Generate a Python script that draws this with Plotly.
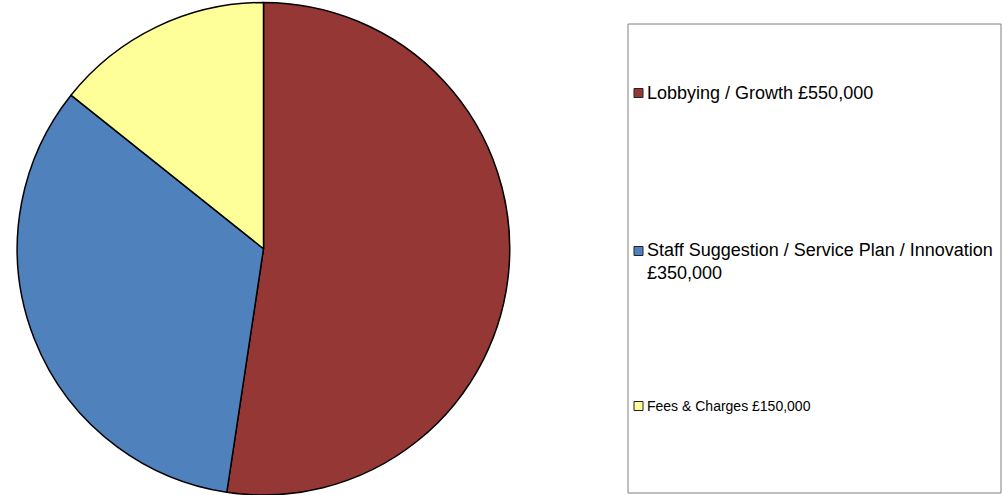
import plotly.graph_objects as go

# ---- data ----
categories = ["Lobbying / Growth", "Staff Suggestion / Service Plan / Innovation", "Fees & Charges"]
values = [550000, 350000, 150000]
colors = ["#953735", "#4F81BD", "#FFFF99"]
legend_labels = [
    "Lobbying / Growth £550,000",
    "Staff Suggestion / Service Plan / Innovation<br>£350,000",
    "Fees & Charges £150,000",
]
legend_font_sizes = [18, 18, 14]

W, H = 1003, 495

def px(x):
    return x / W

def py(y):
    return 1 - y / H

R = 246.25
CX = 263.5
fig = go.Figure()
fig.add_trace(go.Pie(
    labels=categories,
    values=values,
    marker=dict(colors=colors, line=dict(color="black", width=1.5)),
    sort=False,
    direction="clockwise",
    rotation=0,
    textinfo="none",
    hoverinfo="label+value+percent",
    showlegend=False,
    domain=dict(x=[px(CX - R), px(CX + R)], y=[0, 0.995]),
))

shapes = [dict(type="rect", xref="paper", yref="paper",
               x0=px(628), x1=px(1001), y0=py(493), y1=py(24),
               line=dict(color="#808080", width=1), fillcolor="rgba(0,0,0,0)")]
annotations = []
# legend rows (pixel centres of first text line)
row_y = [93, 251, 406]
for i, lab in enumerate(legend_labels):
    yc = row_y[i]
    s = 9
    shapes.append(dict(type="rect", xref="paper", yref="paper",
                       x0=px(634), x1=px(634 + s), y0=py(yc + s / 2), y1=py(yc - s / 2),
                       line=dict(color="#222222", width=1), fillcolor=colors[i]))
    nlines = lab.count("<br>") + 1
    fs = legend_font_sizes[i]
    ycenter = yc + (nlines - 1) * fs * 1.3 / 2 - (nlines - 1) * 1
    annotations.append(dict(xref="paper", yref="paper", x=px(645), y=py(ycenter),
                            xanchor="left", yanchor="middle", align="left",
                            text=lab, showarrow=False,
                            font=dict(family="Liberation Sans, Arial, sans-serif",
                                      size=fs, color="black")))

fig.update_layout(
    width=W, height=H,
    margin=dict(l=0, r=0, t=0, b=0),
    paper_bgcolor="white", plot_bgcolor="white",
    shapes=shapes, annotations=annotations,
)
fig.write_html("out.html")
